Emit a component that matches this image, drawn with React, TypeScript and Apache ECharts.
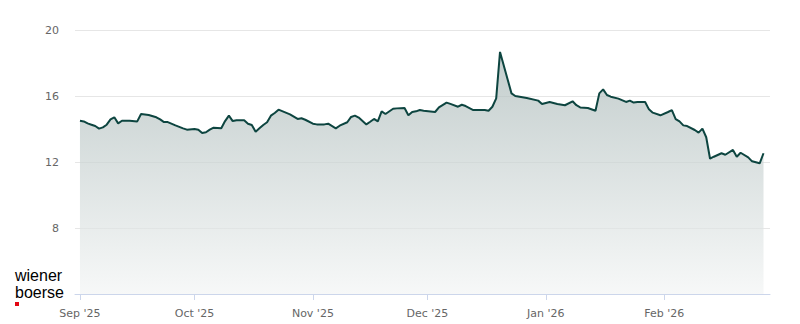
import React, { useEffect, useRef } from "react";
import * as echarts from "echarts";

const dates: string[] = [
  "2025-09-01", "2025-09-02", "2025-09-03", "2025-09-04", "2025-09-05", "2025-09-06", "2025-09-07",
  "2025-09-08", "2025-09-09", "2025-09-10", "2025-09-11", "2025-09-12", "2025-09-14", "2025-09-16",
  "2025-09-17", "2025-09-19", "2025-09-21", "2025-09-22", "2025-09-23", "2025-09-24", "2025-09-26",
  "2025-09-28", "2025-09-29", "2025-10-01", "2025-10-02", "2025-10-03", "2025-10-04", "2025-10-05",
  "2025-10-06", "2025-10-08", "2025-10-09", "2025-10-10", "2025-10-11", "2025-10-12", "2025-10-14",
  "2025-10-15", "2025-10-16", "2025-10-17", "2025-10-18", "2025-10-19", "2025-10-20", "2025-10-21",
  "2025-10-22", "2025-10-23", "2025-10-26", "2025-10-28", "2025-10-29", "2025-10-30", "2025-11-01",
  "2025-11-02", "2025-11-04", "2025-11-05", "2025-11-07", "2025-11-08", "2025-11-10", "2025-11-11",
  "2025-11-12", "2025-11-13", "2025-11-15", "2025-11-16", "2025-11-17", "2025-11-18", "2025-11-19",
  "2025-11-20", "2025-11-22", "2025-11-23", "2025-11-25", "2025-11-26", "2025-11-27", "2025-11-28",
  "2025-11-29", "2025-11-30", "2025-12-03", "2025-12-04", "2025-12-06", "2025-12-07", "2025-12-09",
  "2025-12-10", "2025-12-11", "2025-12-13", "2025-12-16", "2025-12-17", "2025-12-18", "2025-12-19",
  "2025-12-20", "2025-12-23", "2025-12-24", "2025-12-27", "2025-12-30", "2025-12-31", "2026-01-02",
  "2026-01-04", "2026-01-06", "2026-01-08", "2026-01-09", "2026-01-10", "2026-01-12", "2026-01-14",
  "2026-01-15", "2026-01-16", "2026-01-17", "2026-01-18", "2026-01-20", "2026-01-22", "2026-01-23",
  "2026-01-24", "2026-01-25", "2026-01-27", "2026-01-28", "2026-01-29", "2026-01-31", "2026-02-02",
  "2026-02-03", "2026-02-04", "2026-02-05", "2026-02-06", "2026-02-07", "2026-02-09", "2026-02-10",
  "2026-02-11", "2026-02-12", "2026-02-13", "2026-02-14", "2026-02-16", "2026-02-17", "2026-02-19",
  "2026-02-20", "2026-02-21", "2026-02-23", "2026-02-24", "2026-02-26", "2026-02-27",
];

const prices: number[] = [
  14.5, 14.46, 14.34, 14.26, 14.18, 14.02, 14.1,
  14.26, 14.58, 14.71, 14.34, 14.5, 14.5, 14.46,
  14.91, 14.85, 14.71, 14.58, 14.42, 14.42, 14.22,
  14.04, 13.96, 14.0, 13.96, 13.76, 13.8, 13.96,
  14.08, 14.04, 14.48, 14.81, 14.48, 14.53, 14.53,
  14.32, 14.24, 13.84, 14.04, 14.24, 14.41, 14.81,
  14.97, 15.17, 14.89, 14.61, 14.65, 14.56, 14.32,
  14.28, 14.28, 14.32, 14.04, 14.2, 14.41, 14.73,
  14.81, 14.69, 14.28, 14.44, 14.61, 14.46, 15.07,
  14.91, 15.23, 15.25, 15.27, 14.83, 15.03, 15.07,
  15.15, 15.11, 15.03, 15.31, 15.6, 15.52, 15.35,
  15.47, 15.39, 15.15, 15.15, 15.11, 15.35, 15.86,
  18.67, 16.16, 16.0, 15.88, 15.72, 15.52, 15.64,
  15.52, 15.44, 15.68, 15.44, 15.31, 15.27, 15.11,
  16.16, 16.4, 16.06, 15.96, 15.84, 15.64, 15.72,
  15.6, 15.64, 15.64, 15.19, 14.99, 14.83, 15.03,
  15.15, 14.6, 14.46, 14.22, 14.18, 13.94, 13.78,
  14.02, 13.5, 12.2, 12.32, 12.53, 12.44, 12.73,
  12.32, 12.56, 12.28, 12.04, 11.92, 12.53,
];

const monthNames: string[] = ["Jan", "Feb", "Mar", "Apr", "May", "Jun", "Jul", "Aug", "Sep", "Oct", "Nov", "Dec"];
const yTicks: number[] = [4, 8, 12, 16, 20];
const logoLines: string[] = ["wiener", "boerse"];

const DAY = 86400000;

export default function App() {
  const ref = useRef<HTMLDivElement>(null);

  useEffect(() => {
    if (!ref.current) return;
    const chart = echarts.init(ref.current, undefined, { renderer: "svg" });
    const sep1 = new Date(2025, 8, 1).getTime();
    const xMin = sep1 - 1.3 * DAY;
    const xMax = sep1 + 180.7 * DAY;
    const seriesData = dates.map((d, i) => {
      const [y, m, dd] = d.split("-").map(Number);
      return [new Date(y, m - 1, dd).getTime(), prices[i]];
    });

    chart.setOption({
      animation: false,
      backgroundColor: "#ffffff",
      grid: { left: 75, right: 30, top: 30, bottom: 30, containLabel: false },
      xAxis: {
        type: "time",
        min: xMin,
        max: xMax,
        minInterval: 28 * DAY,
        maxInterval: 31 * DAY,
        axisLine: { show: true, lineStyle: { color: "#ccd6eb", width: 1 } },
        axisTick: { show: true, length: 6, lineStyle: { color: "#ccd6eb" } },
        splitLine: { show: false },
        axisLabel: {
          color: "#666666",
          fontSize: 11,
          fontFamily: "DejaVu Sans",
          margin: 14,
          showMinLabel: false,
          showMaxLabel: false,
          formatter: (val: number) => {
            const d = new Date(val);
            return monthNames[d.getMonth()] + " '" + String(d.getFullYear()).slice(2);
          },
        },
      },
      yAxis: {
        type: "value",
        min: yTicks[0],
        max: yTicks[yTicks.length - 1],
        interval: 4,
        axisLine: { show: false },
        axisTick: { show: false },
        splitLine: { show: true, lineStyle: { color: "#e6e6e6", width: 1 } },
        axisLabel: {
          color: "#666666",
          fontSize: 11,
          fontFamily: "DejaVu Sans",
          margin: 16,
          showMinLabel: false,
        },
      },
      series: [
        {
          type: "line",
          data: seriesData,
          symbol: "none",
          lineStyle: { color: "#0d4540", width: 2 },
          areaStyle: {
            origin: "start",
            color: new echarts.graphic.LinearGradient(0, 0, 0, 1, [
              { offset: 0, color: "#a9b8b7" },
              { offset: 1, color: "#f3f5f5" },
            ]),
          },
        },
      ],
      graphic: [
        {
          type: "text",
          left: 15,
          top: 267,
          style: {
            text: logoLines[0],
            font: "16px 'Liberation Sans', Arial, sans-serif",
            lineHeight: 15,
            fill: "#000000",
          },
        },
        {
          type: "text",
          left: 15,
          top: 284,
          style: {
            text: logoLines[1],
            font: "16px 'Liberation Sans', Arial, sans-serif",
            lineHeight: 15,
            fill: "#000000",
          },
        },
        {
          type: "rect",
          left: 15,
          top: 302,
          shape: { x: 0, y: 0, width: 4, height: 4 },
          style: { fill: "#e30613" },
        },
      ],
    });
    return () => chart.dispose();
  }, []);

  return (
    <div
      ref={ref}
      style={{ position: "absolute", left: 0, top: 0, width: 800, height: 324 }}
    />
  );
}
